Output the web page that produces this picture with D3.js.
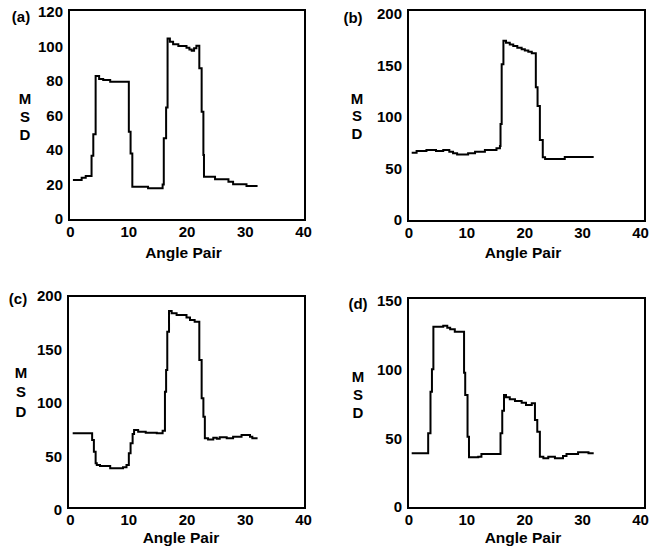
<!DOCTYPE html>
<html>
<head>
<meta charset="utf-8">
<script src="https://cdn.jsdelivr.net/npm/d3@7"></script>
<style>
  body { margin: 0; background: #fff; }
  text { font-family: "Liberation Sans", Arial, sans-serif; font-weight: bold; fill: #000; }
</style>
</head>
<body>
<svg width="652" height="549"></svg>
<script>
// step start x (angle pair) and MSD level for each panel
var aX = [0.5, 2.0, 2.7, 3.7, 4.0, 4.4, 5.0, 5.7, 6.9, 10.1, 10.4, 10.7, 13.4, 15.9, 16.1, 16.5, 16.75, 17.15, 17.7, 18.6, 20.0, 20.5, 20.9, 21.3, 21.7, 22.2, 22.6, 22.9, 23.0, 24.9, 27.2, 28.0, 30.3, 32.2];
var aY = [22.6, 23.9, 24.9, 36.7, 49.1, 82.9, 81.2, 80.6, 79.6, 50.6, 38.0, 18.7, 17.8, 20.0, 46.8, 64.7, 104.7, 102.8, 101.3, 100.3, 99.3, 98.3, 97.6, 99.0, 100.5, 87.4, 62.2, 37.1, 24.5, 23.0, 21.6, 20.1, 19.1, 19.1];

var bX = [0.55, 1.4, 3.1, 4.75, 6.0, 7.05, 7.7, 8.4, 10.3, 11.5, 13.2, 15.2, 15.8, 15.9, 16.1, 16.4, 16.85, 17.5, 18.1, 18.8, 19.55, 20.1, 20.7, 21.3, 22.0, 22.3, 22.7, 23.2, 23.6, 27.0, 32.0];
var bY = [65.3, 66.9, 67.9, 66.9, 67.9, 66.3, 64.7, 63.7, 64.7, 66.3, 67.9, 69.6, 71.8, 93.2, 151.1, 174.0, 172.1, 170.5, 168.9, 167.3, 165.7, 164.5, 163.4, 162.0, 128.8, 110.7, 77.7, 60.9, 59.2, 61.2, 61.2];

var cX = [0.46, 3.8, 4.1, 4.4, 4.6, 5.15, 6.9, 9.1, 9.7, 10.1, 10.4, 10.75, 11.0, 11.7, 13.0, 14.9, 15.9, 16.3, 16.5, 16.7, 17.0, 17.45, 18.3, 20.0, 20.6, 21.4, 22.2, 22.6, 22.9, 23.15, 23.7, 24.6, 25.2, 25.7, 26.9, 28.0, 29.45, 30.9, 31.3, 32.2];
var cY = [71.7, 65.4, 54.5, 43.6, 42.1, 41.1, 39.0, 39.9, 42.1, 53.0, 62.3, 71.0, 74.8, 73.2, 72.3, 71.7, 74.1, 110.6, 130.8, 166.6, 186.0, 183.8, 182.2, 180.0, 177.6, 176.0, 140.2, 104.4, 87.2, 67.0, 66.0, 67.5, 66.5, 67.9, 67.0, 68.5, 70.1, 68.5, 67.0, 67.0];

var dX = [0.55, 3.4, 3.8, 4.05, 4.3, 6.0, 6.7, 7.2, 8.0, 9.6, 9.8, 10.2, 10.45, 12.05, 12.6, 15.9, 16.2, 16.5, 16.85, 17.5, 18.4, 19.55, 20.3, 21.3, 21.85, 22.25, 22.7, 23.3, 24.15, 25.3, 26.7, 27.3, 29.3, 31.1, 32.0];
var dY = [39.1, 53.7, 84.0, 100.3, 131.3, 132.0, 130.6, 129.4, 127.7, 97.8, 81.6, 51.2, 36.2, 36.6, 38.6, 53.7, 70.1, 81.6, 79.9, 78.4, 77.2, 76.0, 74.3, 75.5, 63.4, 54.8, 36.6, 35.5, 36.6, 35.5, 37.1, 38.6, 39.8, 39.1, 39.1];

var xTicks = [0, 10, 20, 30, 40];
var aTicks = [0, 20, 40, 60, 80, 100, 120];
var bTicks = [0, 50, 100, 150, 200];
var cTicks = [0, 50, 100, 150, 200];
var dTicks = [0, 50, 100, 150];

var tags = ["(a)", "(b)", "(c)", "(d)"];
var yLetters = ["M", "S", "D"];
var xTitle = "Angle Pair";

var svg = d3.select("svg");

var panels = [
  {tag: tags[0], xs: aX, ys: aY, ticks: aTicks, yMax: 120, box: [69, 10, 305, 220], xr: [70, 303], yr: [219, 12], tagPos: [21, 16], msd: [25, 98, 18], title: [183.5, 252]},
  {tag: tags[1], xs: bX, ys: bY, ticks: bTicks, yMax: 200, box: [408, 10, 645, 221], xr: [408.5, 640], yr: [220, 14], tagPos: [353, 17], msd: [357, 98, 17.5], title: [523, 252]},
  {tag: tags[2], xs: cX, ys: cY, ticks: cTicks, yMax: 200, box: [68, 296, 305, 508], xr: [70, 303], yr: [510, 296], tagPos: [18, 298], msd: [21, 372, 19.5], title: [181, 537]},
  {tag: tags[3], xs: dX, ys: dY, ticks: dTicks, yMax: 150, box: [408, 298, 645, 508], xr: [408.5, 640], yr: [507, 301], tagPos: [358, 303], msd: [358, 376, 18], title: [523, 537]}
];

panels.forEach(function(p) {
  var x = d3.scaleLinear().domain([0, 40]).range(p.xr);
  var y = d3.scaleLinear().domain([0, p.yMax]).range(p.yr);
  var g = svg.append("g");

  // frame
  g.append("rect")
    .attr("x", p.box[0]).attr("y", p.box[1])
    .attr("width", p.box[2] - p.box[0]).attr("height", p.box[3] - p.box[1])
    .attr("fill", "none").attr("stroke", "#000").attr("stroke-width", 2);

  // x axis labels
  var ax = g.append("g")
    .attr("transform", "translate(0," + p.box[3] + ")")
    .call(d3.axisBottom(x).tickValues(xTicks).tickSize(0).tickPadding(6));
  ax.select(".domain").remove();
  ax.selectAll("text").attr("font-size", 15).attr("font-family", null).attr("dy", "0.75em");

  // y axis labels
  var ay = g.append("g")
    .attr("transform", "translate(" + p.box[0] + ",0)")
    .call(d3.axisLeft(y).tickValues(p.ticks).tickSize(0).tickPadding(6));
  ay.select(".domain").remove();
  ay.selectAll("text").attr("font-size", 15).attr("font-family", null);

  // data
  var pts = p.xs.map(function(v, i) { return [v, p.ys[i]]; });
  var line = d3.line()
    .x(function(d) { return x(d[0]); })
    .y(function(d) { return y(d[1]); })
    .curve(d3.curveStepAfter);
  g.append("path")
    .datum(pts)
    .attr("d", line)
    .attr("fill", "none")
    .attr("stroke", "#000")
    .attr("stroke-width", 2);

  // panel tag
  g.append("text")
    .attr("x", p.tagPos[0]).attr("y", p.tagPos[1])
    .attr("text-anchor", "middle").attr("dominant-baseline", "central")
    .attr("font-size", 15)
    .text(p.tag);

  // stacked M S D
  yLetters.forEach(function(l, i) {
    g.append("text")
      .attr("x", p.msd[0]).attr("y", p.msd[1] + i * p.msd[2])
      .attr("text-anchor", "middle").attr("dominant-baseline", "central")
      .attr("font-size", 15)
      .text(l);
  });

  // x title
  g.append("text")
    .attr("x", p.title[0]).attr("y", p.title[1])
    .attr("text-anchor", "middle").attr("dominant-baseline", "central")
    .attr("font-size", 15.5)
    .text(xTitle);
});
</script>
</body>
</html>
